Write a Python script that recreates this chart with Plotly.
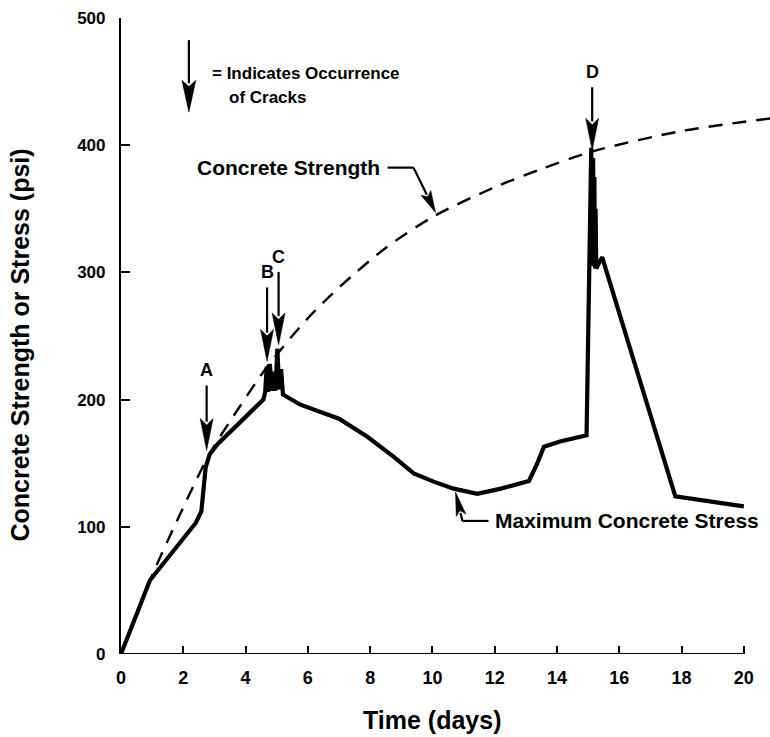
import numpy as np
import plotly.graph_objects as go

# Maximum concrete stress history
stress_days = [0, 0.93, 2.4, 2.58, 2.72, 2.85, 3.1, 4.57, 4.63, 4.68, 4.72, 4.78, 4.84,
               4.9, 4.96, 5.02, 5.08, 5.14, 5.2, 5.76, 7.0, 7.9, 8.76, 9.4, 10.04, 10.68,
               11.44, 12.2, 13.1, 13.37, 13.58, 14.1, 14.95, 15.1, 15.13, 15.16, 15.18,
               15.2, 15.22, 15.24, 15.26, 15.45, 17.8, 20.0]
stress_psi = [0, 58, 103, 112, 147, 157, 165, 200, 206, 226, 206, 228, 207,
              222, 207, 240, 208, 224, 204, 196, 185, 171, 155, 142, 135.5, 130,
              126, 130, 136, 150, 163, 167, 172, 398, 305, 390, 305, 375, 303, 350, 303,
              312, 124, 116]

# Concrete strength development
strength_days = [0, 0.93, 1.9, 2.86, 3.8, 4.73, 6.0, 7.04, 8.54, 10.04, 12.0, 13.47,
                 15.13, 17.97, 20.84]
strength_psi = [0, 58, 110, 158, 194, 227, 264, 289, 320, 344, 367, 381,
                395, 411, 421]

# Crack occurrences (arrow tips)
crack_labels = ["A", "B", "C", "D"]
crack_days = [2.75, 4.69, 5.06, 15.13]
crack_psi = [160, 230, 243, 396]

# Leader arrow tips for the curve labels
strength_label_tip = (10.1, 347)
stress_label_tip = (10.74, 127.4)
key_arrow_tip = (2.18, 426)

x_ticks = list(range(0, 21, 2))
y_ticks = [0, 100, 200, 300, 400, 500]

FONT = "Liberation Sans, Arial, sans-serif"
INK = "black"

fig = go.Figure()
fig.add_trace(go.Scatter(x=strength_days, y=strength_psi, mode="lines",
                         line=dict(color=INK, width=2.4, dash="14px,10px", shape="spline",
                                   smoothing=0.8),
                         hoverinfo="skip", showlegend=False))
fig.add_trace(go.Scatter(x=stress_days, y=stress_psi, mode="lines",
                         line=dict(color=INK, width=4.2, shape="linear"),
                         hoverinfo="skip", showlegend=False))

shapes = []
annotations = []


def pix_path(points):
    # points given as screen offsets (dx right, dy down) from the anchor
    parts = []
    for i, (dx, dy) in enumerate(points):
        parts.append(("M" if i == 0 else "L") + f"{dx:.2f},{-dy:.2f}")
    return " ".join(parts) + " Z"


def pointer(x, y, tail, head_len, head_w, shaft_w=2.2):
    """Line from tail (screen offset, y down) to anchor (x, y) with a filled head at the anchor."""
    tx, ty = tail
    L = np.hypot(tx, ty)
    ux, uy = tx / L, ty / L
    bx, by = ux * head_len, uy * head_len
    px, py = -uy * head_w / 2, ux * head_w / 2
    shapes.append(dict(type="line", xref="x", yref="y", xsizemode="pixel", ysizemode="pixel",
                       xanchor=x, yanchor=y, x0=bx * 0.9, y0=-by * 0.9, x1=tx, y1=-ty,
                       line=dict(color=INK, width=shaft_w)))
    mx, my = ux * head_len * 0.5, uy * head_len * 0.5
    shapes.append(dict(type="path", xref="x", yref="y", xsizemode="pixel", ysizemode="pixel",
                       xanchor=x, yanchor=y,
                       path=pix_path([(0, 0), (bx + px, by + py), (mx * 1.6, my * 1.6),
                                      (bx - px, by - py)]),
                       fillcolor=INK, line=dict(color=INK, width=0.5)))


# crack arrows
arrow_len = {"A": 65, "B": 74, "C": 73, "D": 63}
for lab, cx, cy in zip(crack_labels, crack_days, crack_psi):
    pointer(cx, cy, (0, -arrow_len[lab]), 32, 13)
    annotations.append(dict(x=cx, y=cy, xref="x", yref="y", text=lab, showarrow=False,
                            yshift=arrow_len[lab] + 15, xanchor="center", yanchor="middle",
                            font=dict(size=18, family=FONT, color=INK, weight="bold")))

# key arrow
pointer(key_arrow_tip[0], key_arrow_tip[1], (0, -72), 32, 14)
annotations.append(dict(x=key_arrow_tip[0], y=key_arrow_tip[1], xref="x", yref="y",
                        text="= Indicates Occurrence", showarrow=False, xanchor="left",
                        yanchor="middle", xshift=21, yshift=39,
                        font=dict(size=17, family=FONT, color=INK, weight="bold")))
annotations.append(dict(x=key_arrow_tip[0], y=key_arrow_tip[1], xref="x", yref="y",
                        text="of Cracks", showarrow=False, xanchor="left",
                        yanchor="middle", xshift=38, yshift=15,
                        font=dict(size=17, family=FONT, color=INK, weight="bold")))

# Concrete Strength label with leader
sx, sy = strength_label_tip
pointer(sx, sy, (-22, -45), 22, 11)
shapes.append(dict(type="line", xref="x", yref="y", xsizemode="pixel", ysizemode="pixel",
                   xanchor=sx, yanchor=sy, x0=-48, y0=45, x1=-22, y1=45,
                   line=dict(color=INK, width=2.2)))
annotations.append(dict(x=sx, y=sy, xref="x", yref="y", text="Concrete Strength",
                        showarrow=False, xanchor="right", yanchor="middle",
                        xshift=-54, yshift=45,
                        font=dict(size=21, family=FONT, color=INK, weight="bold")))

# Maximum Concrete Stress label with leader
mx_, my_ = stress_label_tip
pointer(mx_, my_, (7, 29), 24, 10)
shapes.append(dict(type="line", xref="x", yref="y", xsizemode="pixel", ysizemode="pixel",
                   xanchor=mx_, yanchor=my_, x0=7, y0=-29, x1=33, y1=-29,
                   line=dict(color=INK, width=2.2)))
annotations.append(dict(x=mx_, y=my_, xref="x", yref="y", text="Maximum Concrete Stress",
                        showarrow=False, xanchor="left", yanchor="middle",
                        xshift=38, yshift=-29,
                        font=dict(size=21, family=FONT, color=INK, weight="bold")))

# x axis line, ending at the last tick
shapes.append(dict(type="line", xref="x", yref="y", x0=0, x1=x_ticks[-1], y0=0, y1=0,
                   line=dict(color=INK, width=2.2)))

# axis titles
annotations.append(dict(x=10, y=0, xref="x", yref="paper", text="Time (days)",
                        showarrow=False, yshift=-66, xanchor="center", yanchor="middle",
                        font=dict(size=25, family=FONT, color=INK, weight="bold")))
annotations.append(dict(x=0, y=0.485, xref="paper", yref="paper",
                        text="Concrete Strength or Stress (psi)", textangle=-90,
                        showarrow=False, xshift=-101, xanchor="center", yanchor="middle",
                        font=dict(size=25, family=FONT, color=INK, weight="bold")))

fig.update_layout(
    width=770, height=737,
    margin=dict(l=121, r=0, t=18, b=83),
    paper_bgcolor="white", plot_bgcolor="white",
    shapes=shapes, annotations=annotations,
    font=dict(family=FONT, color=INK),
    xaxis=dict(range=[0, 20.84], tickvals=x_ticks, ticktext=[str(v) for v in x_ticks],
               ticks="inside", ticklen=8, tickwidth=2, tickcolor=INK,
               showgrid=False, zeroline=False, showline=False,
               tickfont=dict(size=18, family=FONT, color=INK, weight="bold"),
               ticklabelstandoff=11),
    yaxis=dict(range=[0, 500], tickvals=y_ticks, ticktext=[str(v) for v in y_ticks],
               ticks="inside", ticklen=9, tickwidth=2, tickcolor=INK,
               showgrid=False, zeroline=False, showline=True, linecolor=INK, linewidth=2.2,
               tickfont=dict(size=17, family=FONT, color=INK, weight="bold"),
               ticklabelstandoff=10),
)

fig.write_html("out.html")
